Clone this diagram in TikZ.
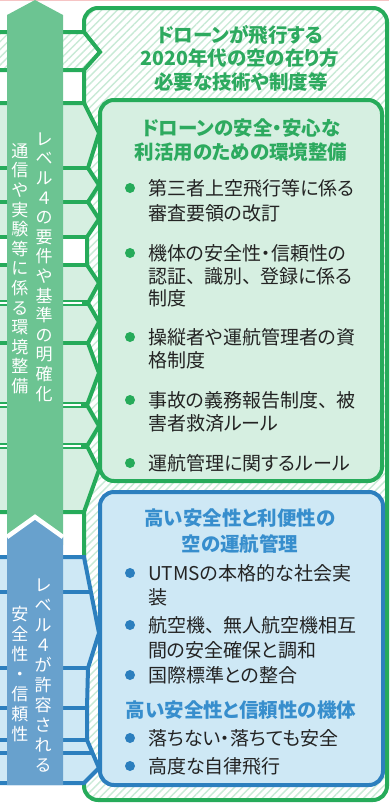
\documentclass[tikz,border=0pt]{standalone}
\usepackage{fontspec}
\usetikzlibrary{patterns.meta}
\newfontfamily\jpfont{Noto Sans CJK JP}[RawFeature=+palt]
\newfontfamily\tatefont{Noto Sans CJK JP}
\newcommand\jpcomma{、\kern0.45em}
\definecolor{lineGreen}  {RGB}{38,171,90}
\definecolor{fillGreen}  {RGB}{214,239,225}
\definecolor{arrowGreen} {RGB}{108,196,146}
\definecolor{hatchGreen} {RGB}{200,234,214}
\definecolor{titleGreen} {RGB}{45,170,95}
\definecolor{lineBlue}   {RGB}{44,127,190}
\definecolor{fillBlue}   {RGB}{206,232,245}
\definecolor{arrowBlue}  {RGB}{104,161,205}
\definecolor{titleBlue}  {RGB}{55,142,205}
\definecolor{bodyText}   {RGB}{35,35,35}
\definecolor{topPink}    {RGB}{246,196,196}
\tikzset{
  hatch/.style={pattern={Lines[angle=45,distance=5.5pt,line width=1.4pt]},pattern color=hatchGreen},
  greenline/.style={draw=lineGreen,line width=4pt},
  blueline/.style={draw=lineBlue,line width=4pt},
  jptext/.style={inner sep=0pt,text height=16.7pt,text depth=2.3pt},
  itemtext/.style={jptext,anchor=west,text=bodyText,font=\jpfont\fontsize{19}{23}\selectfont},
  gtitle/.style={jptext,text=titleGreen,font=\jpfont\bfseries\fontsize{19.5}{23}\selectfont},
  btitle/.style={jptext,text=titleBlue,font=\jpfont\bfseries\fontsize{19.5}{23}\selectfont},
  tatechar/.style={jptext,text=white,font=\tatefont\fontsize{17}{19}\selectfont},
}
\begin{document}
\begin{tikzpicture}[x=1pt,y=-1pt]
  \useasboundingbox (0,0) rectangle (389,804);
  \draw[topPink,line width=1.5pt] (0,0.7) -- (389,0.7);

  % outer frame (hatched)
  \path[fill=white,postaction={hatch},rounded corners=14pt] (84,8) rectangle (387,800);
  \draw[greenline,rounded corners=14pt] (84,8) rectangle (387,800);

  % bands coming in from the left
  \path[fill=white,postaction={hatch}] (0,32) -- (84,32) -- (100,52) -- (84,70) -- (0,70) -- cycle;
  \fill[fillGreen] (0,103) -- (84,103) -- (99,133) -- (88,168) -- (99,185) -- (88,202)
    -- (99,219) -- (87,237) -- (87,265) -- (99,283) -- (88,303) -- (99,322) -- (88,343)
    -- (99,373) -- (87,405) -- (99,426) -- (87,446) -- (99,470) -- (84,512) -- (0,512) -- cycle;
  \fill[white] (0,237) rectangle (87,265);
  \fill[fillBlue] (0,557) -- (84,557) -- (99,633) -- (88,668) -- (87,708) -- (87,740)
    -- (99,768) -- (84,783) -- (0,783) -- cycle;

  \draw[greenline] (0,32) -- (84,32) -- (100,52) -- (84,70) -- (0,70);
  \draw[greenline] (0,103) -- (84,103) -- (99,133) -- (88,168) -- (99,185) -- (88,202)
    -- (99,219) -- (87,237) -- (87,265) -- (99,283) -- (88,303) -- (99,322) -- (88,343)
    -- (99,373) -- (87,405) -- (99,426) -- (87,446) -- (99,470) -- (84,512) -- (0,512);
  \foreach \yy/\xx in {168/88,202/88,237/87,265/87,343/88}
    \draw[greenline] (0,\yy) -- (\xx,\yy);
  \foreach \yy/\xx in {303/88,405/87,446/87}{
    \draw[greenline,line width=5.5pt] (0,\yy) -- (\xx,\yy);
    \draw[white,line width=1.2pt] (0,\yy) -- ({\xx-6},\yy);
  }
  \draw[blueline] (0,557) -- (84,557) -- (99,633) -- (88,668) -- (87,708) -- (87,740)
    -- (99,768) -- (84,783) -- (0,783);
  \foreach \yy/\xx in {592/91,668/88,708/87,740/87,753/92}
    \draw[blueline] (0,\yy) -- (\xx,\yy);

  % inner boxes
  \draw[greenline,fill=fillGreen,rounded corners=14pt] (100,100) rectangle (382,481);
  \draw[blueline,fill=fillBlue,rounded corners=14pt] (100,492) rectangle (383,785);

  % arrows
  \fill[arrowGreen] (7,15) -- (35,0) -- (63,15) -- (63,545) -- (35,525) -- (7,545) -- cycle;
  \fill[arrowBlue] (7,537) -- (35,517) -- (63,537) -- (63,785) -- (7,785) -- cycle;
  \draw[white,line width=4.5pt] (7,537) -- (35,517) -- (63,537);

  \foreach \ch [count=\i from 0] in {レ,ベ,ル,４,の,要,件,や,基,準,の,明,確,化}
    \node[tatechar] (gr\i) at (44,{138+19.6*\i}) {\ch};
  \foreach \ch [count=\i from 0] in {通,信,や,実,験,等,に,係,る,環,境,整,備}
    \node[tatechar] (gl\i) at (20,{150+19.6*\i}) {\ch};
  \foreach \ch [count=\i from 0] in {レ,ベ,ル,４,が,許,容,さ,れ,る}
    \node[tatechar] (br\i) at (43,{584+20*\i}) {\ch};
  \foreach \ch [count=\i from 0] in {安,全,性,・,信,頼,性}
    \node[tatechar] (bl\i) at (20,{613+20*\i}) {\ch};

  % titles
  \node[gtitle] (ot1) at (240,35) {ドローンが飛行する};
  \node[gtitle] (ot2) at (240,58) {2020年代の空の在り方};
  \node[gtitle] (ot3) at (241,82) {必要な技術や制度等};
  \node[gtitle] (gt1) at (241,128) {ドローンの安全・安心な};
  \node[gtitle] (gt2) at (241,152) {利活用のための環境整備};

  % green items
  \foreach \yy in {188,253,337,400,463}
    \fill[lineGreen] (130,\yy) circle (5pt);
  \node[itemtext] (g1a) at (148,188) {第三者上空飛行等に係る};
  \node[itemtext] (g1b) at (148,213) {審査要領の改訂};
  \node[itemtext] (g2a) at (148,253) {機体の安全性・信頼性の};
  \node[itemtext] (g2b) at (148,276) {認証\jpcomma 識別\jpcomma 登録に係る};
  \node[itemtext] (g2c) at (148,298) {制度};
  \node[itemtext] (g3a) at (148,337) {操縦者や運航管理者の資};
  \node[itemtext] (g3b) at (148,360) {格制度};
  \node[itemtext] (g4a) at (148,400) {事故の義務報告制度\jpcomma 被};
  \node[itemtext] (g4b) at (148,423) {害者救済ルール};
  \node[itemtext] (g5a) at (148,463) {運航管理に関するルール};

  % blue items
  \node[btitle] (bt1) at (240,518) {高い安全性と利便性の};
  \node[btitle] (bt2) at (240,544) {空の運航管理};
  \foreach \yy in {573,625,675,738,766}
    \fill[lineBlue] (130,\yy) circle (5pt);
  \node[itemtext] (b1a) at (148,573) {UTMSの本格的な社会実};
  \node[itemtext] (b1b) at (148,597) {装};
  \node[itemtext] (b2a) at (148,625) {航空機\jpcomma 無人航空機相互};
  \node[itemtext] (b2b) at (148,650) {間の安全確保と調和};
  \node[itemtext] (b3a) at (148,675) {国際標準との整合};
  \node[btitle] (bt3) at (241,710) {高い安全性と信頼性の機体};
  \node[itemtext] (b4a) at (148,738) {落ちない・落ちても安全};
  \node[itemtext] (b5a) at (148,766) {高度な自律飛行};
\end{tikzpicture}
\end{document}
